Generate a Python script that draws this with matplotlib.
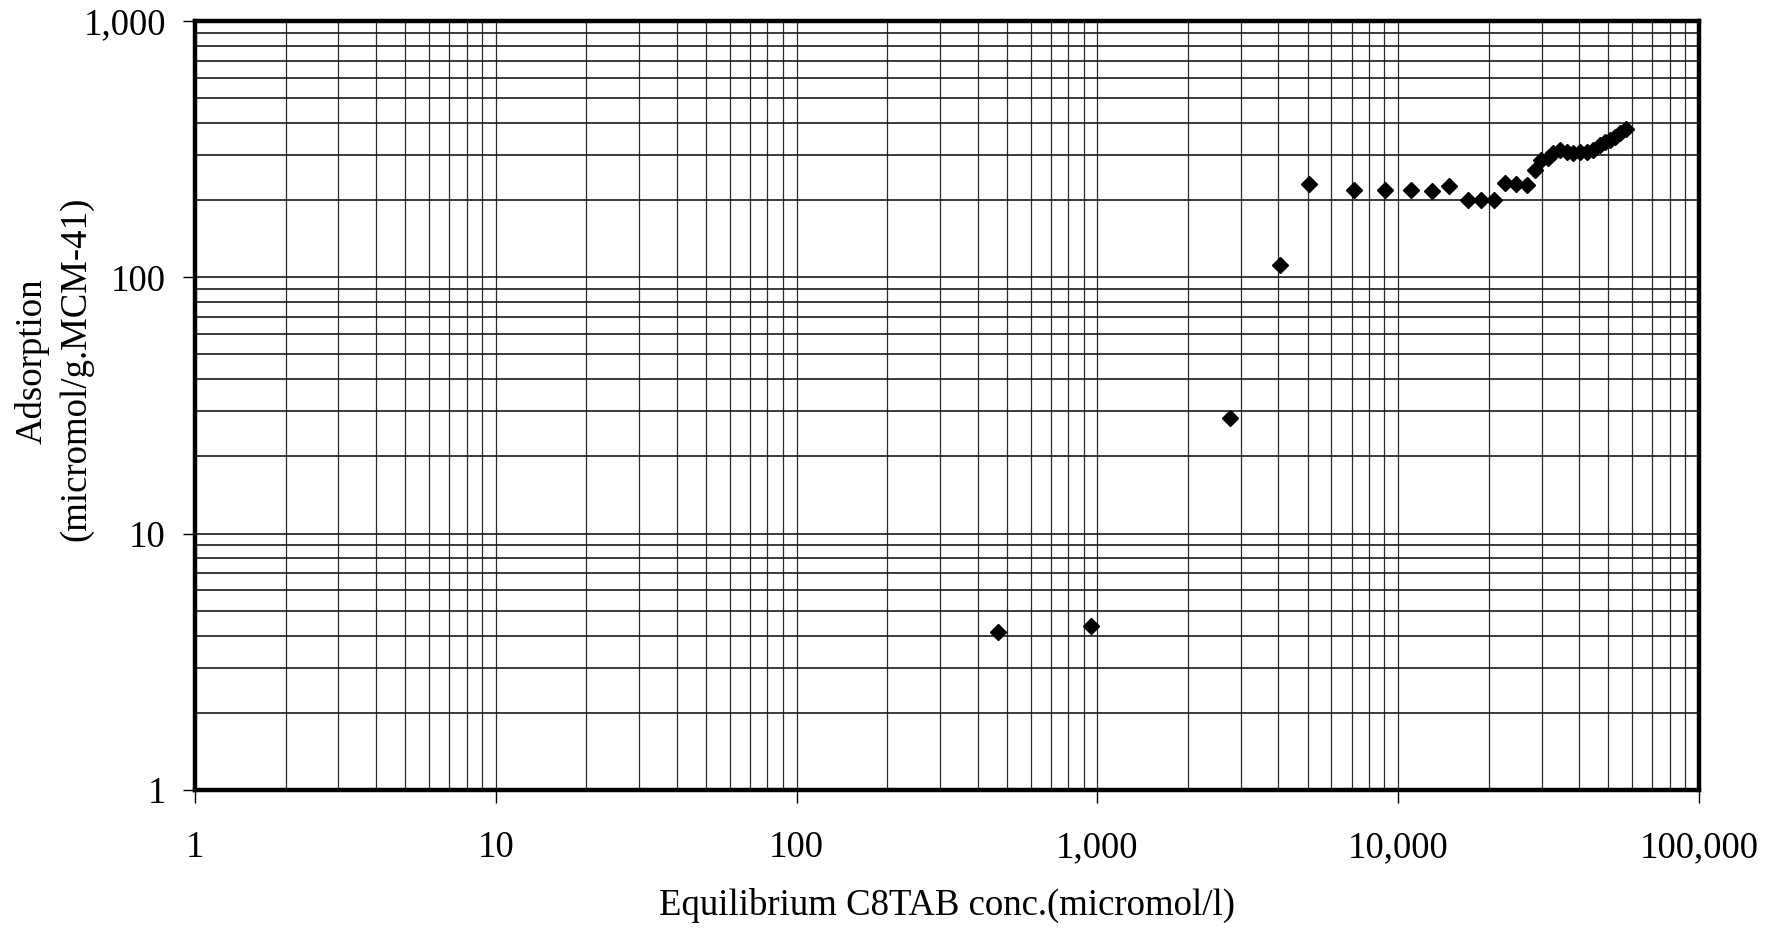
import matplotlib
matplotlib.use("Agg")
import matplotlib.pyplot as plt
from matplotlib.ticker import LogLocator, FuncFormatter, NullFormatter

# Equilibrium C8TAB concentration (micromol/l) and adsorption (micromol/g MCM-41)
conc = [468, 952, 2760, 4050, 5060, 7130, 9060, 11030, 12920, 14790,
        17110, 18840, 20870, 22650, 24640, 26740,
        28500, 29770, 31550, 32790, 34510, 36310, 38210, 40220, 42330,
        44530, 46880, 48700, 50580, 52560, 54620, 57160]
adsorption = [4.12, 4.38, 28.2, 111.7, 230.7, 219, 219, 219, 218, 227,
              200, 200, 200, 234, 231, 229,
              262, 287, 291, 305, 314, 309, 305, 309, 309,
              314, 329, 338, 344, 354, 365, 379]

x_ticks = [1, 10, 100, 1000, 10000, 100000]
y_ticks = [1, 10, 100, 1000]

plt.rcParams["font.family"] = ["Liberation Serif", "DejaVu Serif"]
FS = 26.5

fig = plt.figure(figsize=(17.74, 9.32), dpi=100)
ax = fig.add_axes([0.1099, 0.1524, 0.8478, 0.8251])

ax.set_xscale("log")
ax.set_yscale("log")
ax.set_xlim(1, 100000)
ax.set_ylim(1, 1000)

ax.plot(conc, adsorption, linestyle="none", marker="D", markersize=8.5,
        color="black", zorder=3)

ax.xaxis.set_minor_locator(LogLocator(base=10, subs=range(2, 10)))
ax.yaxis.set_minor_locator(LogLocator(base=10, subs=range(2, 10)))
ax.set_xticks(x_ticks)
ax.set_yticks(y_ticks)
fmt = FuncFormatter(lambda v, p: f"{int(round(v)):,}")
ax.xaxis.set_major_formatter(fmt)
ax.yaxis.set_major_formatter(fmt)
ax.xaxis.set_minor_formatter(NullFormatter())
ax.yaxis.set_minor_formatter(NullFormatter())

ax.tick_params(which="major", direction="out", length=9, width=1.0,
               labelsize=FS)
ax.tick_params(axis="x", which="major", pad=20)
ax.tick_params(axis="y", which="major", pad=12)
ax.tick_params(which="minor", length=0)

ax.grid(True, which="both", axis="x", color="#2a2a2a", linewidth=0.9)
ax.grid(True, which="both", axis="y", color="#1a1a1a", linewidth=1.2)
ax.set_axisbelow(True)

for s in ax.spines.values():
    s.set_linewidth(3.2)
    s.set_color("black")

ax.set_xlabel("Equilibrium C8TAB conc.(micromol/l)", fontsize=FS, labelpad=17)
fig.text(0.018, 1 - 361 / 932, "Adsorption", rotation=90, fontsize=FS,
         ha="center", va="center")
fig.text(0.043, 1 - 369 / 932, "(micromol/g.MCM-41)", rotation=90, fontsize=FS,
         ha="center", va="center")

fig.savefig("out.png", dpi=100, facecolor="white")
